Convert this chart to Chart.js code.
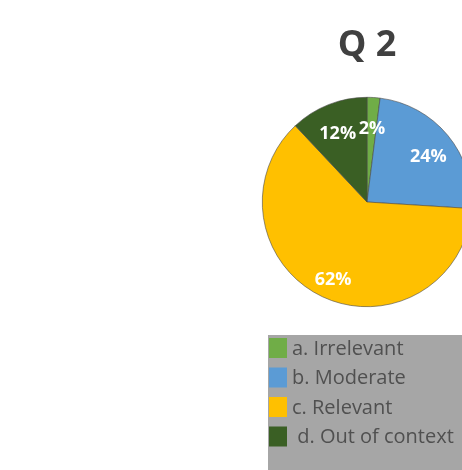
<!DOCTYPE html>
<html lang="en">
<head>
    <meta charset="UTF-8">
    <title>Q 2</title>
    <script src="https://cdn.jsdelivr.net/npm/chart.js"></script>
    <style>
        html, body { margin: 0; padding: 0; background: #fff; overflow: hidden; }
        #wrap { width: 480px; height: 470px; }
    </style>
</head>
<body>
    <div id="wrap"><canvas id="pieChart" width="480" height="470"></canvas></div>

    <script>
        var title = 'Q 2';
        var categories = ['a. Irrelevant', 'b. Moderate', 'c. Relevant', ' d. Out of context'];
        var values = [2, 24, 62, 12];
        var colors = ['#70AD47', '#5B9BD5', '#FFC000', '#3A5F24'];

        // title, slice percentages and the grey legend box
        var excelBits = {
            id: 'excelBits',
            afterDatasetsDraw: function(chart) {
                var ctx = chart.ctx;
                var area = chart.chartArea;
                var cx = (area.left + area.right) / 2;
                var total = values.reduce(function(a, b) { return a + b; }, 0);

                ctx.save();
                ctx.fillStyle = '#404040';
                ctx.font = 'bold 36px "Open Sans", sans-serif';
                ctx.textAlign = 'center';
                ctx.textBaseline = 'middle';
                ctx.fillText(title, cx, 46);

                ctx.fillStyle = '#ffffff';
                ctx.font = 'bold 18px "Open Sans", sans-serif';
                chart.getDatasetMeta(0).data.forEach(function(arc, i) {
                    var mid = (arc.startAngle + arc.endAngle) / 2;
                    var r = arc.outerRadius * 0.76;
                    var pct = Math.round(values[i] / total * 100) + '%';
                    ctx.fillText(pct, arc.x + Math.cos(mid) * r, arc.y + Math.sin(mid) * r + 6);
                });

                // legend
                var boxX = 268, boxY = 335;
                ctx.fillStyle = '#A6A6A6';
                ctx.fillRect(boxX, boxY, chart.width - boxX, chart.height - boxY);
                ctx.textAlign = 'left';
                ctx.font = '20px "Open Sans", sans-serif';
                categories.forEach(function(c, i) {
                    var y = 348 + i * 29.5;
                    ctx.fillStyle = colors[i];
                    ctx.fillRect(boxX + 1, y - 10, 18, 20);
                    ctx.fillStyle = '#505050';
                    ctx.fillText(c, boxX + 24, y + 1);
                });
                ctx.restore();
            }
        };

        new Chart(document.getElementById('pieChart'), {
            type: 'pie',
            data: {
                labels: categories,
                datasets: [{
                    data: values,
                    backgroundColor: colors,
                    borderColor: '#4a4a4a',
                    borderWidth: 0.6
                }]
            },
            options: {
                responsive: false,
                animation: false,
                layout: { padding: { left: 262, right: 8, top: 97, bottom: 163 } },
                plugins: {
                    legend: { display: false },
                    tooltip: { enabled: false },
                    title: { display: false }
                }
            },
            plugins: [excelBits]
        });
    </script>
</body>
</html>
